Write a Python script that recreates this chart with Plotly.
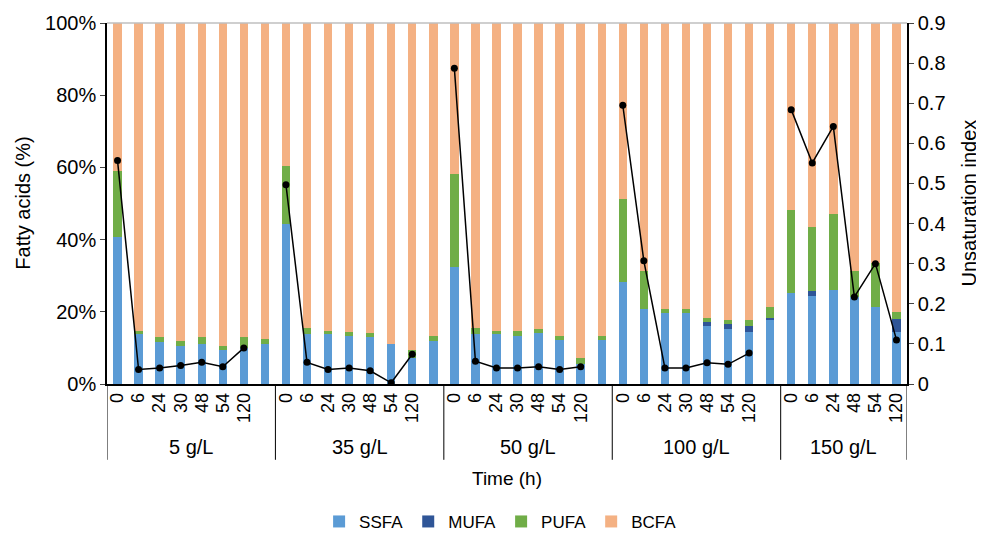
import plotly.graph_objects as go

groups = ["5 g/L", "35 g/L", "50 g/L", "100 g/L", "150 g/L"]
group_times = [
    ["0", "6", "24", "30", "48", "54", "120", ""],
    ["0", "6", "24", "30", "48", "54", "120", ""],
    ["0", "6", "24", "30", "48", "54", "120", ""],
    ["0", "6", "24", "30", "48", "54", "120", ""],
    ["0", "6", "24", "48", "54", "120"],
]

ssfa = [40.6, 13.9, 11.6, 10.5, 11.1, 9.4, 10.0, 11.1,
        44.2, 13.8, 13.8, 13.4, 13.0, 11.1, 7.3, 11.9,
        32.4, 13.8, 13.8, 13.4, 14.1, 12.3, 5.6, 12.3,
        28.2, 20.8, 19.7, 19.7, 16.0, 15.3, 14.3, 17.6,
        25.2, 24.5, 26.1, 24.1, 21.2, 14.3]
mufa = [0, 0, 0, 0, 0, 0, 0, 0,
        0, 0, 0, 0, 0, 0, 0, 0,
        0, 0, 0, 0, 0, 0, 0, 0,
        0, 0, 0, 0, 1.3, 1.4, 1.7, 0.8,
        0, 1.2, 0, 0, 0, 3.6]
pufa = [18.3, 0.9, 1.3, 1.4, 1.8, 1.0, 2.9, 1.5,
        16.3, 1.8, 1.0, 1.1, 1.0, 0.0, 2.0, 1.5,
        25.9, 1.8, 1.0, 1.4, 1.0, 1.1, 1.5, 1.1,
        23.0, 10.4, 1.0, 1.0, 1.1, 1.1, 1.8, 2.8,
        22.9, 17.7, 21.0, 7.1, 12.3, 2.1]
unsat = [0.557, 0.036, 0.040, 0.046, 0.054, 0.043, 0.090, None,
         0.497, 0.054, 0.036, 0.040, 0.033, 0.003, 0.074, None,
         0.787, 0.057, 0.040, 0.040, 0.043, 0.036, 0.043, None,
         0.695, 0.307, 0.040, 0.040, 0.053, 0.049, 0.077, None,
         0.684, 0.551, 0.642, 0.217, 0.300, 0.110]
bcfa = [round(100 - s - m - p, 1) for s, m, p in zip(ssfa, mufa, pufa)]

left_ticks = [0, 20, 40, 60, 80, 100]
right_ticks = [0, 0.1, 0.2, 0.3, 0.4, 0.5, 0.6, 0.7, 0.8, 0.9]

tick_labels = [t for g in group_times for t in g]
x = list(range(len(tick_labels)))

colors = {"SSFA": "#5B9BD5", "MUFA": "#2F5597", "PUFA": "#70AD47", "BCFA": "#F4B183"}
font = "Liberation Sans, Arial, sans-serif"

fig = go.Figure()
for name, vals in [("SSFA", ssfa), ("MUFA", mufa), ("PUFA", pufa), ("BCFA", bcfa)]:
    fig.add_trace(go.Bar(x=x, y=vals, name=name, width=0.4,
                         marker=dict(color=colors[name], line=dict(width=0))))

fig.add_trace(go.Scatter(x=x, y=unsat, yaxis="y2", mode="lines+markers",
                         line=dict(color="black", width=1.5),
                         marker=dict(color="black", size=7),
                         connectgaps=False, showlegend=False))

# group separators and labels
bounds = [-0.5]
for g in group_times:
    bounds.append(bounds[-1] + len(g))
for b in bounds:
    fig.add_shape(type="line", xref="x", yref="paper", x0=b, x1=b, y0=0, y1=-0.21,
                  line=dict(color="black", width=1))
for i, g in enumerate(groups):
    fig.add_annotation(x=(bounds[i] + bounds[i + 1]) / 2, y=-0.175, xref="x", yref="paper",
                       text=g, showarrow=False, font=dict(size=20, color="black", family=font),
                       yanchor="middle")
fig.add_annotation(x=0.5, y=-0.262, xref="paper", yref="paper", text="Time (h)", showarrow=False,
                   font=dict(size=19, color="black", family=font), yanchor="middle")
fig.add_annotation(x=-0.106, y=0.5, xref="paper", yref="paper", text="Fatty acids (%)",
                   showarrow=False, textangle=-90, font=dict(size=20, color="black", family=font),
                   xanchor="center", yanchor="middle")
fig.add_annotation(x=1.0 + 61 / 800, y=0.5, xref="paper", yref="paper", text="Unsaturation index",
                   showarrow=False, textangle=-90, font=dict(size=20, color="black", family=font),
                   xanchor="center", yanchor="middle")
# top border
fig.add_shape(type="line", xref="paper", yref="paper", x0=0, x1=1, y0=1, y1=1,
              line=dict(color="#BFBFBF", width=1.5))

# page body has an 8px margin: size/margins compensate so the plot area lands at 107..907 x 23..384
fig.update_layout(
    width=976, height=525,
    margin=dict(l=99, r=77, t=15, b=149, autoexpand=False),
    barmode="stack", bargap=0,
    plot_bgcolor="white", paper_bgcolor="white",
    font=dict(family=font, size=18, color="black"),
    xaxis=dict(range=[-0.5, len(x) - 0.5], tickmode="array", tickvals=x, ticktext=tick_labels,
               tickangle=-90, showline=True, linecolor="black", linewidth=1.5,
               ticks="", showgrid=False, zeroline=False, tickfont=dict(size=18),
               automargin=False),
    yaxis=dict(range=[0, 100], tickmode="array", tickvals=left_ticks,
               ticktext=[f"{v}%" for v in left_ticks],
               showline=True, linecolor="black", linewidth=1.5, ticks="outside", ticklen=5,
               showgrid=False, zeroline=False, automargin=False, tickfont=dict(size=20)),
    yaxis2=dict(range=[0, 0.9], tickmode="array", tickvals=right_ticks,
                ticktext=["0"] + [f"{v:.1f}" for v in right_ticks[1:]],
                overlaying="y", side="right", showline=True, linecolor="black", linewidth=1.5,
                ticks="outside", ticklen=5, showgrid=False, zeroline=False, automargin=False,
                tickfont=dict(size=20)),
    legend=dict(orientation="h", x=0.492, xanchor="center", y=-0.382, yanchor="middle",
                font=dict(size=17), traceorder="normal", itemwidth=30, tracegroupgap=0),
)

fig.write_html("out.html")
